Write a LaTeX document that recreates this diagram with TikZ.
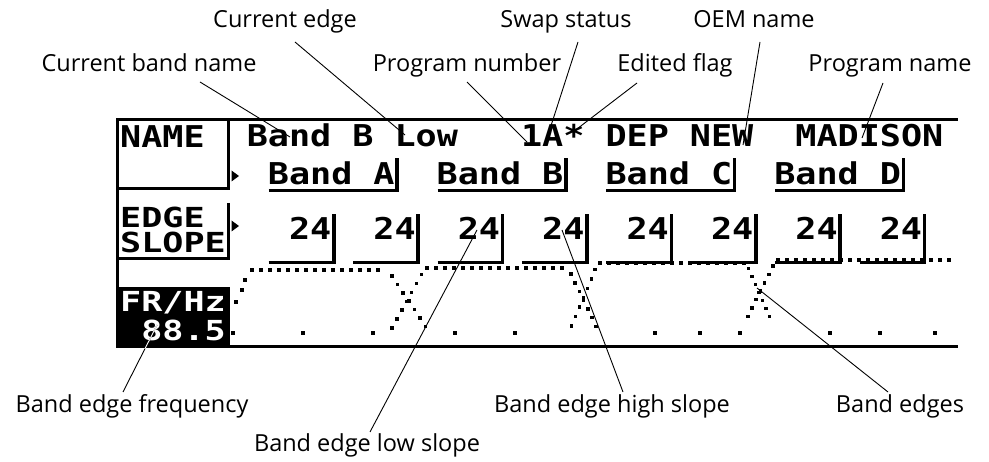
\documentclass[tikz,border=0pt]{standalone}
\usepackage{fontspec}
\setmainfont{Open Sans}
\newfontfamily\lcdfont[FakeStretch=1.17,UprightFont=* Bold]{DejaVu Sans Mono}
\newfontfamily\lcdsmall[FakeStretch=1.27,UprightFont=* Bold]{DejaVu Sans Mono}
\begin{document}
\begin{tikzpicture}[x=1pt,y=-1pt,
  lcd/.style={font=\lcdfont\fontsize{30}{30}\selectfont, inner sep=0pt, anchor=base west, text height=22pt, text depth=0pt},
  lcds/.style={font=\lcdsmall\fontsize{27.6}{28}\selectfont, inner sep=0pt, anchor=base west, text height=20pt, text depth=0pt},
  lbl/.style={font=\fontsize{23.5}{26}\selectfont, inner sep=0pt, anchor=base},
  leader/.style={line width=0.9pt},
  frame/.style={line width=3pt},
  fld/.style={line width=3.5pt, line join=miter},
  ptr/.style={fill=black}
]
\useasboundingbox (0,0) rectangle (989,462);
\def\px#1#2{\fill (#1-1.75,#2-1.75) rectangle ++(3.5,3.5);}

% ---------- screen frame ----------
\draw[frame] (117,120) -- (958,120);
\draw[frame] (117,118.5) -- (117,348.5);
\draw[frame] (229,347) -- (958,347);
% NAME box
\draw[frame] (228,120) -- (228,189) -- (117,189);
% EDGE SLOPE box
\draw[frame] (228,203) -- (228,259) -- (117,259);
% FR/Hz box
\fill (115.5,287) coordinate (frbox-a) rectangle (229.5,348.5) coordinate (frbox-b);

% ---------- soft key labels ----------
\node[lcd] (kname) at (120,148) {NAME};
\node[lcds] (kedge) at (120,228) {EDGE};
\node[lcds] (kslope) at (120,253) {SLOPE};
\node[lcds, text=white] (kfr) at (120,312) {FR/Hz};
\node[lcds, text=white] (kval) at ({121+21.1*1-1},341) {88.5};

% pointers
\fill[ptr] (231.5,170.5) -- (239,176) -- (231.5,181.5) -- cycle;
\fill[ptr] (231.5,220.5) -- (239,226) -- (231.5,231.5) -- cycle;

% ---------- top row ----------
\node[lcd] (tband) at ({121+21.1*6-1},147) {Band};
\node[lcd] (tb) at ({121+21.1*11-1},147) {B};
\node[lcd] (tlow) at ({121+21.1*13-1},147) {Low};
\node[lcd] (tnum) at ({121+21.1*19-1},147) {1A*};
\node[lcd] (tdep) at ({121+21.1*23-1},147) {DEP};
\node[lcd] (tnew) at ({121+21.1*27-1},147) {NEW};
\node[lcd] (tmad) at ({121+21.1*32-1},147) {MADISON};

% ---------- band row ----------
\foreach \c/\t in {7/A,15/B,23/C,31/D}{
  \node[lcd] (band\t) at ({121+21.1*\c-1},185) {Band};
  \node[lcd] (bandl\t) at ({121+21.1*(\c+5)-1},185) {\t};
  \draw[fld] ({121+21.1*\c},190.5) -- ({121+21.1*(\c+6)+1.75},190.5) -- ({121+21.1*(\c+6)+1.75},158);
}

% ---------- slope row ----------
\foreach \c [count=\i] in {7,11,15,19,23,27,31,35}{
  \node[lcd] (slope\i) at ({121+21.1*(\c+1)-1},240) {24};
  \draw[fld] ({121+21.1*\c},262.5) -- ({121+21.1*(\c+3)+1.75},262.5) -- ({121+21.1*(\c+3)+1.75},214);
}

% ---------- band graph (dots) ----------
% tops
\foreach \x in {252,261,...,386} {\px{\x}{270}}
\foreach \x in {427,436,...,568} {\px{\x}{268}}
\foreach \x in {600,609,...,746} {\px{\x}{263}}
\foreach \x in {778,787,...,957} {\px{\x}{260}}
% band A rising
\px{245}{280}\px{242}{290}\px{236}{302}
% band A falling
\foreach \t in {0.1,0.24,...,1.0} {\px{388+40*\t}{270+60*\t}}
% band B rising
\foreach \t in {0.1,0.24,...,1.0} {\px{425-35*\t}{268+64*\t}}
% band B falling
\foreach \t in {0.1,0.24,...,1.0} {\px{568+30*\t}{268+62*\t}}
% band C rising
\foreach \t in {0.1,0.24,...,1.0} {\px{598-28*\t}{263+67*\t}}
% band C falling
\foreach \t in {0.1,0.24,...,1.0} {\px{746+25*\t}{263+57*\t}}
% band D rising
\foreach \t in {0.1,0.24,...,1.0} {\px{776-30*\t}{260+60*\t}}
% stop band floor
\foreach \x in {233,303,373,455,515,655,700,740,830,880,935} {\px{\x}{333}}

% ---------- callout labels ----------
\node[lbl] (lce) at (285,28) {Current edge};
\node[lbl] (lcbn) at (149,72) {Current band name};
\node[lbl] (lpn) at (467,72) {Program number};
\node[lbl] (lss) at (566,28) {Swap status};
\node[lbl] (lef) at (675,72) {Edited flag};
\node[lbl] (loem) at (754,28) {OEM name};
\node[lbl] (lpname) at (890,72) {Program name};
\node[lbl] (lbef) at (132,413) {Band edge frequency};
\node[lbl] (lbels) at (367,452) {Band edge low slope};
\node[lbl] (lbehs) at (612,413) {Band edge high slope};
\node[lbl] (lbe) at (900,413) {Band edges};

% leader end points
\coordinate (cbn-s) at (200,82);  \coordinate (cbn-e) at (290,137);
\coordinate (ce-s) at (295,42);   \coordinate (ce-e) at (405,135);
\coordinate (pn-s) at (467,82);   \coordinate (pn-e) at (527,142);
\coordinate (ss-s) at (578,42);   \coordinate (ss-e) at (548,135);
\coordinate (ef-s) at (637,83);   \coordinate (ef-e) at (573,132);
\coordinate (oem-s) at (760,42);  \coordinate (oem-e) at (743,145);
\coordinate (pnm-s) at (883,83);  \coordinate (pnm-e) at (862,138);
\coordinate (bef-s) at (123,392); \coordinate (bef-e) at (157,325);
\coordinate (bels-s) at (370,432);\coordinate (bels-e) at (477,230);
\coordinate (behs-s) at (623,392);\coordinate (behs-e) at (562,230);
\coordinate (be-s) at (888,392);  \coordinate (be-e) at (757,288);

\draw[leader] (cbn-s) -- (cbn-e);
\draw[leader] (ce-s) -- (ce-e);
\draw[leader] (pn-s) -- (pn-e);
\draw[leader] (ss-s) -- (ss-e);
\draw[leader] (ef-s) -- (ef-e);
\draw[leader] (oem-s) -- (oem-e);
\draw[leader] (pnm-s) -- (pnm-e);
\draw[leader] (bef-s) -- (bef-e);
\begin{scope}
  \clip (frbox-a) rectangle (frbox-b);
  \draw[leader, white] (bef-s) -- (bef-e);
\end{scope}
\draw[leader] (bels-s) -- (bels-e);
\draw[leader] (behs-s) -- (behs-e);
\draw[leader] (be-s) -- (be-e);
\end{tikzpicture}
\end{document}
